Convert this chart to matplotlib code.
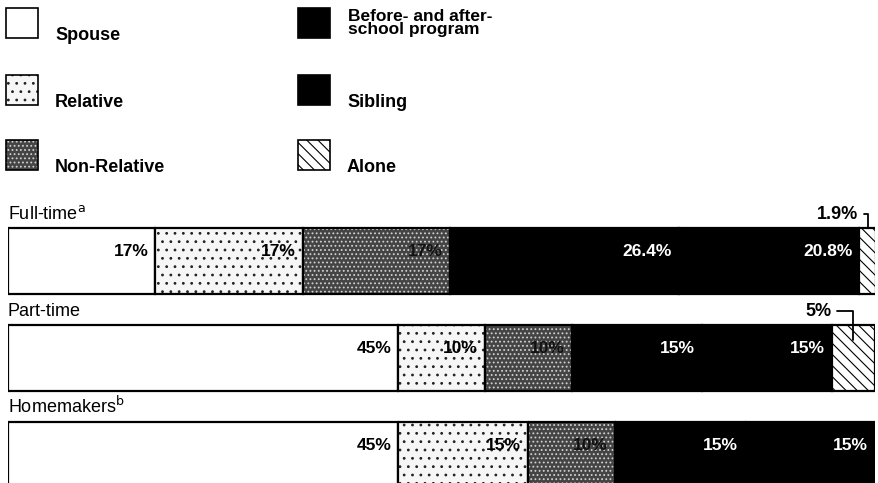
import matplotlib
matplotlib.use('Agg')
import matplotlib.pyplot as plt
from matplotlib.patches import Rectangle

plt.rcParams['font.family'] = ['Liberation Sans', 'DejaVu Sans']
plt.rcParams['hatch.linewidth'] = 0.8

# data (percent of child care by provider)
groups = ['Full-time$^{\\mathrm{a}}$', 'Part-time', 'Homemakers$^{\\mathrm{b}}$']
categories = ['Spouse', 'Relative', 'Non-Relative',
              'Before- and after-\nschool program', 'Sibling', 'Alone']
full_time = [17, 17, 17, 26.4, 20.8, 1.9]
part_time = [45, 10, 10, 15, 15, 5]
homemakers = [45, 15, 10, 15, 15, 0]
shares = [full_time, part_time, homemakers]

# fill styles: face, hatch, hatch colour, label colour
faces = ['white', '#f6f6f6', '#444444', 'black', 'black', 'white']
hatches = [None, '..', '....', None, None, '\\\\\\']
hatch_cols = ['black', '#222222', '#d0d0d0', 'black', 'black', 'black']
text_cols = ['black', 'black', '#111111', 'white', 'white', 'black']

# callouts for the thin "Alone" slices: text offset (pt), how far the leader enters the bar
callout_offset = {0: (-6.5, 10), 1: (-16, 21)}
callout_depth = {0: 0.0, 1: 0.16}

fig = plt.figure(figsize=(8.79, 4.83), dpi=100)

# legend drawn on an overlay in pixel units
lax = fig.add_axes([0, 0, 1, 1])
lax.set_xlim(0, 879)
lax.set_ylim(483, 0)
lax.axis('off')
box_x = [6, 6, 6, 298, 298, 298]
box_y = [8, 75, 140, 8, 75, 140]
for i, name in enumerate(categories):
    lax.add_patch(Rectangle((box_x[i], box_y[i]), 32, 30, facecolor=faces[i],
                            hatch=hatches[i], edgecolor=hatch_cols[i], linewidth=0))
    lax.add_patch(Rectangle((box_x[i], box_y[i]), 32, 30, fill=False,
                            edgecolor='black', linewidth=1.2))
    if '\n' in name:
        lax.text(box_x[i] + 50, box_y[i] + 1, name, va='top', ha='left',
                 fontsize=12.5, fontweight='bold', linespacing=0.8)
    else:
        lax.text(box_x[i] + 49, box_y[i] + 32, name, va='baseline', ha='left',
                 fontsize=13, fontweight='bold')

ax = fig.add_axes([8 / 879, 0, 867 / 879, 1])
ax.set_xlim(0, 100)
ax.set_ylim(2.289, -2.69)
ax.axis('off')

bar_h = 0.68
for row, vals in enumerate(shares):
    left = 0
    for j, v in enumerate(vals):
        if v == 0:
            continue
        ax.barh(row, v, left=left, height=bar_h, color=faces[j], hatch=hatches[j],
                edgecolor=hatch_cols[j], linewidth=0)
        ax.barh(row, v, left=left, height=bar_h, fill=False, edgecolor='black',
                linewidth=1.6)
        if j < 5:
            ax.annotate(f'{v:g}%', xy=(left + v, row), xytext=(-5, 7),
                        textcoords='offset points', ha='right', va='center',
                        fontsize=12.5, fontweight='bold', color=text_cols[j])
        else:
            dx, dy = callout_offset[row]
            ax.annotate(f'{v:g}%', xy=(left + v / 2, row - bar_h / 2 + callout_depth[row]),
                        xytext=(dx, dy), textcoords='offset points', ha='right', va='center',
                        fontsize=13, fontweight='bold',
                        arrowprops=dict(arrowstyle='-', color='black', lw=1.3,
                                        connectionstyle='angle,angleA=0,angleB=90,rad=0',
                                        shrinkA=2, shrinkB=0))
        left += v
    ax.text(0, row - bar_h / 2 - 0.095, groups[row], va='baseline', ha='left',
            fontsize=13)

fig.savefig('out.png', dpi=100)
